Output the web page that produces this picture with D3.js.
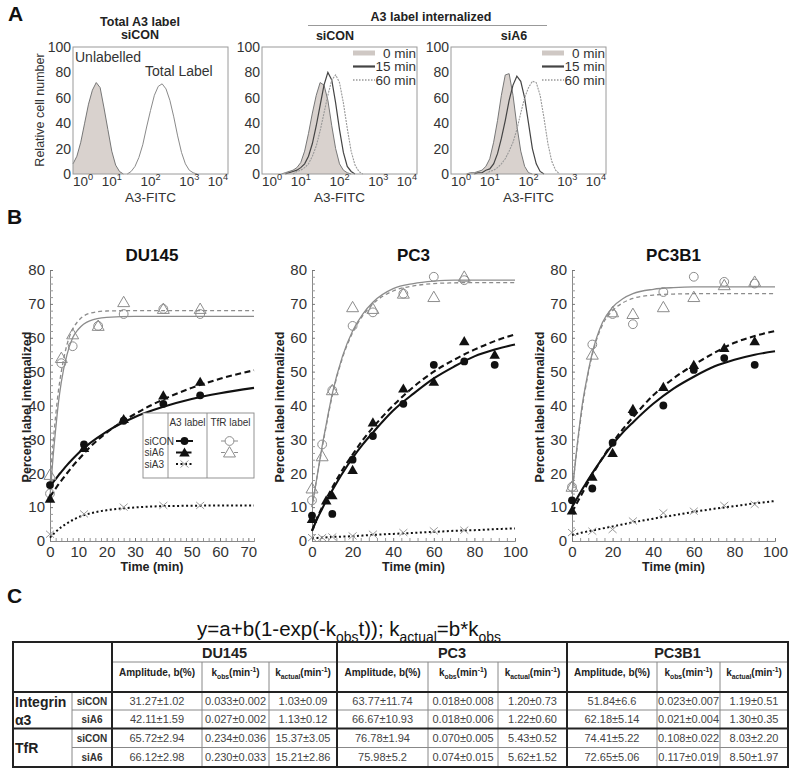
<!DOCTYPE html>
<html>
<head>
<meta charset="utf-8">
<script src="https://cdn.jsdelivr.net/npm/d3@7"></script>
<style>
  body { margin: 0; background: #fff; }
  svg text { font-family: "Liberation Sans", Arial, Helvetica, sans-serif; }
</style>
</head>
<body>
<svg id="fig" width="800" height="776"></svg>
<script>
// ---------- panel A: flow histograms (counts per 0.1 decade bin) ----------
const histExp = [0,0.1,0.2,0.3,0.4,0.5,0.6,0.7,0.8,0.9,1.0,1.1,1.2,1.3,1.4,1.5,1.6,1.7,1.8,1.9,2.0,2.1,2.2,2.3,2.4,2.5,2.6,2.7,2.8,2.9,3.0,3.1,3.2];
const unlabelled = [8,14,25,40,55,66,72,68,52,35,18,7,2,0,0,0,0,0,0,0,0,0,0,0,0,0,0,0,0,0,0,0,0];
const totalLabel = [0,0,0,0,0,0,0,0,0,0,0,0,0,0,0,2,6,13,23,37,50,62,69,71,67,58,45,30,17,8,3,1,0];
const siCON0  = [0,0,0,0,0,0,1,2,3,5,9,18,32,48,62,72,70,58,38,20,8,3,1,0,0,0,0,0,0,0,0,0,0];
const siCON15 = [0,0,0,0,0,0,0,1,2,3,5,8,14,24,38,54,70,80,74,56,35,17,6,2,0,0,0,0,0,0,0,0,0];
const siCON60 = [0,0,0,0,0,0,0,0,0,2,3,5,8,14,22,34,48,62,74,78,72,56,36,18,7,2,0,0,0,0,0,0,0];
const siA60   = [0,0,0,0,0,1,1,2,3,6,12,25,42,62,78,79,62,38,18,6,1,0,0,0,0,0,0,0,0,0,0,0,0];
const siA615  = [0,0,0,0,0,0,0,1,1,3,4,8,16,28,42,58,70,77,73,60,40,20,8,2,0,0,0,0,0,0,0,0,0];
const siA660  = [0,0,0,0,0,0,0,0,0,0,2,3,5,8,12,18,25,35,48,60,68,73,72,62,44,24,10,3,0,0,0,0,0];
const histYTicks = [0,20,40,60,80,100];
const histXExp = [0,1,2,3,4];
const histLegend = ['0 min','15 min','60 min'];

// ---------- panel B: internalization kinetics ----------
// DU145
const du145A3T = [0,12,26,40,53];
const du145A3siCON = [16.5,28.5,35.5,40.5,43];
const du145A3siA6 = [12.5,27.5,36,43,47];
const du145siA3 = [2,8,10,10.5,10.5];
const du145TfrT = [0,4,8,17,26,40,53];
const du145TfrSiCON = [14,52.5,57.5,63.5,67,68.5,67];
const du145TfrSiA6 = [19.5,54,61,63.5,70.5,68.5,68.5];
const du145FitT = [0,1,2,3,4,6,8,10,14,20,30,40,50,60,72];
const du145FitA3siCON = [16,17.2,18.3,19.4,20.4,22.4,24.2,25.9,28.8,32.3,36.6,39.6,41.9,43.6,45.2];
const du145FitA3siA6 = [13,14.3,15.5,16.7,17.8,20,22.1,24,27.6,32,37.5,41.8,45.2,47.9,50.4];
const du145FitSiA3 = [1,1.9,2.7,3.4,4.1,5.2,6.2,7,8.1,9.1,9.9,10.3,10.4,10.5,10.5];
const du145FitTfrSiCON = [13,24,33,41,47,55,60,62.5,65,66,66.3,66.3,66.3,66.3,66.3];
const du145FitTfrSiA6 = [17,28,37,44.5,50,58,62.5,65,67.2,67.9,68,68,68,68,68];
// PC3
const pc3A3T = [0,10,20,30,45,60,75,90];
const pc3A3siCON = [7.5,8,24,31,40.5,52,53,52];
const pc3A6T = [0,7,10,20,30,45,60,75,90];
const pc3A3siA6 = [6.5,12,13.5,21,35,45,47,59,55];
const pc3siA3T = [0,5,10,20,30,45,60,75];
const pc3siA3 = [1,1,1.2,1.5,2,2.5,3,3.2];
const pc3TfrT = [0,5,10,20,30,45,60,75];
const pc3TfrSiCON = [12,28.5,44.5,63.5,67.5,73,78,77];
const pc3TfrSiA6 = [15.5,25,44.5,69,68.5,73,72,78];
const pc3FitT = [0,2.5,5,7.5,10,15,20,25,30,40,50,60,70,80,90,100];
const pc3FitA3siCON = [3,6.5,9.5,12.5,15,20,24.5,28.5,32,38.5,43.5,48,51.5,54.5,56.5,58];
const pc3FitA3siA6 = [3,6.8,10,13,15.8,21,25.5,29.8,33.5,40,45.5,50,53.5,56.5,59,61];
const pc3FitSiA3 = [0.8,0.9,1,1.1,1.2,1.3,1.4,1.6,1.8,2.1,2.4,2.7,3,3.2,3.5,3.7];
const pc3FitTfrSiCON = [10,19,28,36,43.5,54.5,62,67,70.5,74.5,76,76.7,77,77,77,77];
const pc3FitTfrSiA6 = [10,19,27.5,35.5,43,54,61.5,66.5,70,73.8,75.3,76,76.2,76.3,76.3,76.3];
// PC3B1
const pc3b1T = [0,10,20,30,45,60,75,90];
const pc3b1A3siCON = [12,15.5,29,38,40,50.5,54,52];
const pc3b1A3siA6 = [9,19,26,39,45.5,52,57,59];
const pc3b1siA3 = [2.5,2.9,3.4,5.9,8.3,8.8,10.5,10.8];
const pc3b1TfrSiCON = [16,58,67,64,73.5,78,76.5,76];
const pc3b1TfrSiA6 = [16,55,67.5,67,69,72,75.5,76.5];
const pc3b1FitT = [0,2.5,5,7.5,10,15,20,25,30,40,50,60,70,80,90,100];
const pc3b1FitA3siCON = [10,12.6,15.2,17.6,20,24.4,28.5,32,35,40.5,45,48.5,51.5,53.5,55,56];
const pc3b1FitA3siA6 = [8.5,11.3,14,16.8,19.5,24.5,29,33,36.5,43,48,52,55.5,58.5,60.5,62];
const pc3b1FitSiA3 = [1.8,2.1,2.5,2.8,3.1,3.7,4.3,4.9,5.5,6.6,7.6,8.6,9.5,10.3,11.1,11.8];
const pc3b1FitTfrSiCON = [14,28,40,48.5,55.5,64.5,69,71.5,73,74.3,74.8,75,75,75,75,75];
const pc3b1FitTfrSiA6 = [14,27.5,39,48,55,63.8,68,70.3,71.6,72.6,72.9,73,73,73,73,73];

// ---------- panel C: fit table ----------
const cellLines = ['DU145','PC3','PC3B1'];
const treatments = ['siCON','siA6','siCON','siA6'];
const du145Table = [['31.27±1.02','0.033±0.002','1.03±0.09'],['42.11±1.59','0.027±0.002','1.13±0.12'],
                    ['65.72±2.94','0.234±0.036','15.37±3.05'],['66.12±2.98','0.230±0.033','15.21±2.86']];
const pc3Table   = [['63.77±11.74','0.018±0.008','1.20±0.73'],['66.67±10.93','0.018±0.006','1.22±0.60'],
                    ['76.78±1.94','0.070±0.005','5.43±0.52'],['75.98±5.2','0.074±0.015','5.62±1.52']];
const pc3b1Table = [['51.84±6.6','0.023±0.007','1.19±0.51'],['62.18±5.14','0.021±0.004','1.30±0.35'],
                    ['74.41±5.22','0.108±0.022','8.03±2.20'],['72.65±5.06','0.117±0.019','8.50±1.97']];

const svg = d3.select('#fig');

// text with sub/superscript parts
function rich(t, parts, size) {
  let shift = 0;
  parts.forEach(([s, k]) => {
    const target = k === 'sub' ? size * 0.3 : k === 'sup' ? -size * 0.38 : 0;
    t.append('tspan').attr('dy', target - shift)
      .attr('font-size', k ? size * 0.68 : size).text(s);
    shift = target;
  });
  return t;
}

function label(x, y, txt, size, opts = {}) {
  return svg.append('text').attr('x', x).attr('y', y)
    .attr('font-size', size)
    .attr('font-weight', opts.bold ? 'bold' : null)
    .attr('text-anchor', opts.anchor || 'start')
    .attr('fill', opts.fill || '#222')
    .attr('transform', opts.rotate ? `rotate(-90,${x},${y})` : null)
    .text(txt);
}

// panel letters
label(8, 21, 'A', 21, {bold: true, fill: '#111'});
label(7, 224, 'B', 21, {bold: true, fill: '#111'});
label(7, 603, 'C', 21, {bold: true, fill: '#111'});

// ================= panel A =================
function drawHist(c) {
  const W = 155, top = 47, bottom = 174;
  const x = d3.scaleLinear().domain([0, 4]).range([c.left, c.left + W]);
  const y = d3.scaleLinear().domain([0, 100]).range([bottom, top]);
  const g = svg.append('g');

  c.series.forEach(s => {
    const pts = histExp.map((e, i) => [e, s.values[i]])
      .filter((d, i, a) => d[1] > 0 || (a[i - 1] && a[i - 1][1] > 0) || (a[i + 1] && a[i + 1][1] > 0));
    if (s.fill) {
      g.append('path').datum(pts)
        .attr('d', d3.area().x(d => x(d[0])).y0(y(0)).y1(d => y(d[1])))
        .attr('fill', '#d9d2ce');
    }
    g.append('path').datum(pts)
      .attr('d', d3.line().x(d => x(d[0])).y(d => y(d[1])))
      .attr('fill', 'none').attr('stroke', s.stroke).attr('stroke-width', s.width)
      .attr('stroke-dasharray', s.dash || null);
  });

  g.append('rect').attr('x', c.left).attr('y', top).attr('width', W).attr('height', bottom - top)
    .attr('fill', 'none').attr('stroke', '#9a9a9a').attr('stroke-width', 1);

  // y tick labels
  g.selectAll('.yl').data(histYTicks).enter().append('text')
    .attr('x', c.left - 2).attr('y', d => y(d)).attr('dy', '0.36em')
    .attr('text-anchor', 'end').attr('font-size', 14).attr('fill', '#333')
    .text(d => d);

  // x tick labels 10^n
  histXExp.forEach((e, i) => {
    const t = g.append('text').attr('x', x(e)).attr('y', 185.5).attr('fill', '#333')
      .attr('text-anchor', i === 0 ? 'start' : i === histXExp.length - 1 ? 'end' : 'middle');
    rich(t, [['10', null], [String(e), 'sup']], 13.5);
  });
  label(c.left + W / 2, 201.5, 'A3-FITC', 13.5, {anchor: 'middle', fill: '#333'});

  if (c.legend) {
    const r = c.left + W;
    histLegend.forEach((txt, i) => {
      const ly = 53 + i * 13.5;
      const s = c.series[i];
      g.append('line').attr('x1', r - 64).attr('x2', r - 42).attr('y1', ly).attr('y2', ly)
        .attr('stroke', i === 0 ? '#cfc8c4' : s.stroke)
        .attr('stroke-width', i === 0 ? 5 : i === 1 ? 2.2 : 1.3)
        .attr('stroke-dasharray', i === 2 ? '1.5,1.5' : null);
      g.append('text').attr('x', r - 1).attr('y', ly).attr('dy', '0.36em')
        .attr('text-anchor', 'end').attr('font-size', 13.5).attr('fill', '#333').text(txt);
    });
  }
  return x;
}

drawHist({left: 73, series: [
  {values: unlabelled, fill: true, stroke: '#777', width: 1},
  {values: totalLabel, stroke: '#8a8a8a', width: 1}
]});
label(75, 62, 'Unlabelled', 14, {fill: '#333'});
label(145, 76, 'Total Label', 14, {fill: '#333'});
label(140, 26, 'Total A3 label', 12.5, {bold: true, anchor: 'middle'});
label(140, 38.5, 'siCON', 12.5, {bold: true, anchor: 'middle'});
label(44, 110, 'Relative cell number', 12.5, {anchor: 'middle', rotate: true, fill: '#333'});

drawHist({left: 262, legend: true, series: [
  {values: siCON0, fill: true, stroke: '#777', width: 1},
  {values: siCON15, stroke: '#444', width: 1.2},
  {values: siCON60, stroke: '#999', width: 1.1, dash: '2,1'}
]});
drawHist({left: 451, legend: true, series: [
  {values: siA60, fill: true, stroke: '#777', width: 1},
  {values: siA615, stroke: '#444', width: 1.2},
  {values: siA660, stroke: '#999', width: 1.1, dash: '2,1'}
]});
label(431, 21, 'A3 label internalized', 12.5, {bold: true, anchor: 'middle'});
svg.append('line').attr('x1', 308).attr('x2', 547).attr('y1', 25.5).attr('y2', 25.5)
  .attr('stroke', '#999').attr('stroke-width', 1);
label(335, 40, 'siCON', 12.5, {bold: true, anchor: 'middle'});
label(514, 40, 'siA6', 12.5, {bold: true, anchor: 'middle'});

// ================= panel B =================
const yMinor = d3.range(0, 81, 2);

function marker(g, type, px, py) {
  if (type === 'dot') {
    g.append('circle').attr('cx', px).attr('cy', py).attr('r', 3.9).attr('fill', '#111');
  } else if (type === 'ocircle') {
    g.append('circle').attr('cx', px).attr('cy', py).attr('r', 4.4)
      .attr('fill', 'none').attr('stroke', '#8c8c8c').attr('stroke-width', 1);
  } else if (type === 'tri' || type === 'otri') {
    g.append('path').attr('transform', `translate(${px},${py + 1})`)
      .attr('d', d3.symbol(d3.symbolTriangle, type === 'tri' ? 48 : 62)())
      .attr('fill', type === 'tri' ? '#111' : 'none')
      .attr('stroke', type === 'tri' ? 'none' : '#8c8c8c').attr('stroke-width', 1);
  } else if (type === 'x') {
    g.append('path').attr('transform', `translate(${px},${py})`)
      .attr('d', 'M-4,-3.5L4,3.5M-4,3.5L4,-3.5')
      .attr('stroke', '#9a9a9a').attr('stroke-width', 1).attr('fill', 'none');
  }
}

const fitStyle = {
  tfrSiCON: {stroke: '#8c8c8c', width: 1.3, dash: null},
  tfrSiA6:  {stroke: '#8c8c8c', width: 1.3, dash: '4,3'},
  a3siCON:  {stroke: '#111', width: 2.1, dash: null},
  a3siA6:   {stroke: '#111', width: 2.1, dash: '6,3.5'},
  siA3:     {stroke: '#111', width: 2, dash: '2,2.5'}
};

function drawKinetics(c) {
  const x = d3.scaleLinear().domain([0, c.xMax]).range([c.left, c.right]);
  const y = d3.scaleLinear().domain([0, 80]).range([541, 270]);
  const g = svg.append('g');

  const ya = d3.axisLeft(y).tickValues(yMinor).tickSize(-3).tickPadding(5)
    .tickFormat(d => d % 10 ? '' : d);
  const xa = d3.axisBottom(x).tickValues(c.xMinor).tickSize(-3).tickPadding(5)
    .tickFormat(d => c.xLabels.includes(d) ? d : '');
  [g.append('g').attr('transform', `translate(${c.left},0)`).call(ya),
   g.append('g').attr('transform', 'translate(0,541)').call(xa)].forEach(a => {
    a.select('.domain').attr('stroke', '#888');
    a.selectAll('.tick line').attr('stroke', '#999');
    a.selectAll('.tick text').attr('font-size', 15).attr('fill', '#333')
      .attr('font-family', '"Liberation Sans", Arial, sans-serif');
  });
  g.selectAll('.tick').filter(d => d % 10 === 0).select('line').attr('stroke', '#777');

  const line = d3.line().x(d => x(d[0])).y(d => y(d[1])).curve(d3.curveMonotoneX);
  ['tfrSiCON', 'tfrSiA6', 'a3siCON', 'a3siA6', 'siA3'].forEach(k => {
    const st = fitStyle[k];
    g.append('path').datum(c.fitT.map((t, i) => [t, c.fits[k][i]]))
      .attr('d', line).attr('fill', 'none')
      .attr('stroke', st.stroke).attr('stroke-width', st.width)
      .attr('stroke-dasharray', st.dash);
  });

  c.points.forEach(p => p.t.forEach((t, i) => marker(g, p.type, x(t), y(p.v[i]))));

  label((c.left + c.right) / 2, 261, c.title, 17, {bold: true, anchor: 'middle', fill: '#111'});
  label((c.left + c.right) / 2, 571, 'Time (min)', 12.5, {bold: true, anchor: 'middle'});
  label(c.ylabX, 407, 'Percent label internalized', 12.5, {bold: true, anchor: 'middle', rotate: true});
  return {x, y, g};
}

const du = drawKinetics({
  title: 'DU145', left: 50, right: 254, xMax: 72, ylabX: 31,
  xMinor: d3.range(0, 73, 2), xLabels: [0, 10, 20, 30, 40, 50, 60, 70],
  fitT: du145FitT,
  fits: {a3siCON: du145FitA3siCON, a3siA6: du145FitA3siA6, siA3: du145FitSiA3,
         tfrSiCON: du145FitTfrSiCON, tfrSiA6: du145FitTfrSiA6},
  points: [
    {type: 'ocircle', t: du145TfrT, v: du145TfrSiCON},
    {type: 'otri', t: du145TfrT, v: du145TfrSiA6},
    {type: 'x', t: du145A3T, v: du145siA3},
    {type: 'dot', t: du145A3T, v: du145A3siCON},
    {type: 'tri', t: du145A3T, v: du145A3siA6}
  ]
});
drawKinetics({
  title: 'PC3', left: 312, right: 515, xMax: 100, ylabX: 284,
  xMinor: d3.range(0, 101, 4), xLabels: [0, 20, 40, 60, 80, 100],
  fitT: pc3FitT,
  fits: {a3siCON: pc3FitA3siCON, a3siA6: pc3FitA3siA6, siA3: pc3FitSiA3,
         tfrSiCON: pc3FitTfrSiCON, tfrSiA6: pc3FitTfrSiA6},
  points: [
    {type: 'ocircle', t: pc3TfrT, v: pc3TfrSiCON},
    {type: 'otri', t: pc3TfrT, v: pc3TfrSiA6},
    {type: 'x', t: pc3siA3T, v: pc3siA3},
    {type: 'dot', t: pc3A3T, v: pc3A3siCON},
    {type: 'tri', t: pc3A6T, v: pc3A3siA6}
  ]
});
drawKinetics({
  title: 'PC3B1', left: 572, right: 775, xMax: 100, ylabX: 544,
  xMinor: d3.range(0, 101, 4), xLabels: [0, 20, 40, 60, 80, 100],
  fitT: pc3b1FitT,
  fits: {a3siCON: pc3b1FitA3siCON, a3siA6: pc3b1FitA3siA6, siA3: pc3b1FitSiA3,
         tfrSiCON: pc3b1FitTfrSiCON, tfrSiA6: pc3b1FitTfrSiA6},
  points: [
    {type: 'ocircle', t: pc3b1T, v: pc3b1TfrSiCON},
    {type: 'otri', t: pc3b1T, v: pc3b1TfrSiA6},
    {type: 'x', t: pc3b1T, v: pc3b1siA3},
    {type: 'dot', t: pc3b1T, v: pc3b1A3siCON},
    {type: 'tri', t: pc3b1T, v: pc3b1A3siA6}
  ]
});

// legend box inside DU145
(function () {
  const g = du.g.append('g');
  const L = 143, R = 254, T = 413, B = 478, c1 = 168, c2 = 207;
  g.append('rect').attr('x', L).attr('y', T).attr('width', R - L).attr('height', B - T)
    .attr('fill', '#fff').attr('stroke', '#888').attr('stroke-width', 0.9);
  [c1, c2].forEach(cx => g.append('line').attr('x1', cx).attr('x2', cx).attr('y1', T).attr('y2', B)
    .attr('stroke', '#888').attr('stroke-width', 0.9));
  const fs = 10;
  g.append('text').attr('x', (c1 + c2) / 2).attr('y', 426).attr('text-anchor', 'middle')
    .attr('font-size', fs).attr('fill', '#333').text('A3 label');
  g.append('text').attr('x', (c2 + R) / 2).attr('y', 426).attr('text-anchor', 'middle')
    .attr('font-size', fs).attr('fill', '#333').text('TfR label');
  const rows = ['siCON', 'siA6', 'siA3'];
  const keys = ['a3siCON', 'a3siA6', 'siA3'];
  const a3m = ['dot', 'tri', 'x'];
  const tfm = ['ocircle', 'otri', null];
  rows.forEach((r, i) => {
    const ry = 441 + i * 11.5;
    g.append('text').attr('x', L + 1.5).attr('y', ry).attr('dy', '0.35em')
      .attr('font-size', fs).attr('fill', '#333').text(r);
    const st = fitStyle[keys[i]];
    g.append('line').attr('x1', 176).attr('x2', 193).attr('y1', ry).attr('y2', ry)
      .attr('stroke', st.stroke).attr('stroke-width', 2).attr('stroke-dasharray', st.dash);
    marker(g, a3m[i], 184.5, ry);
    if (tfm[i]) {
      g.append('line').attr('x1', 221).attr('x2', 238).attr('y1', ry).attr('y2', ry)
        .attr('stroke', '#8c8c8c').attr('stroke-width', 1);
      g.append('circle').attr('cx', 229.5).attr('cy', ry).attr('r', 4.6).attr('fill', '#fff');
      marker(g, tfm[i], 229.5, ry);
    }
  });
})();

// ================= panel C =================
rich(svg.append('text').attr('x', 349).attr('y', 636).attr('text-anchor', 'middle').attr('fill', '#111'),
  [['y=a+b(1-exp(-k', null], ['obs', 'sub'], ['t));  k', null], ['actual', 'sub'],
   ['=b*k', null], ['obs', 'sub']], 20.5);

(function () {
  const colX = [13, 72, 112, 202, 269, 337, 428, 498, 567, 657, 720, 788];
  const rowY = [642, 662, 692, 710, 728.5, 747.5, 767];
  const g = svg.append('g');
  const hl = (x1, x2, yy, w, col) => g.append('line').attr('x1', x1).attr('x2', x2)
    .attr('y1', yy).attr('y2', yy).attr('stroke', col).attr('stroke-width', w);
  const vl = (xx, y1, y2, w, col) => g.append('line').attr('x1', xx).attr('x2', xx)
    .attr('y1', y1).attr('y2', y2).attr('stroke', col).attr('stroke-width', w);

  // thin inner grid
  hl(colX[2], colX[11], rowY[1], 1, '#888');
  [rowY[3], rowY[5]].forEach(yy => hl(colX[1], colX[11], yy, 1, '#888'));
  vl(colX[1], rowY[2], rowY[6], 1, '#888');
  [3, 4, 6, 7, 9, 10].forEach(i => vl(colX[i], rowY[1], rowY[6], 1, '#888'));
  // heavy lines
  hl(colX[0], colX[11], rowY[2], 1.8, '#222');
  hl(colX[0], colX[11], rowY[4], 1.8, '#222');
  [2, 5, 8].forEach(i => vl(colX[i], rowY[0], rowY[6], 2, '#222'));
  g.append('rect').attr('x', colX[0]).attr('y', rowY[0]).attr('width', colX[11] - colX[0])
    .attr('height', rowY[6] - rowY[0]).attr('fill', 'none').attr('stroke', '#222').attr('stroke-width', 2);

  const tables = [du145Table, pc3Table, pc3b1Table];
  cellLines.forEach((name, k) => {
    const x0 = colX[2 + k * 3], x3 = colX[5 + k * 3];
    g.append('text').attr('x', (x0 + x3) / 2).attr('y', 657.5).attr('text-anchor', 'middle')
      .attr('font-size', 14.5).attr('font-weight', 'bold').attr('fill', '#222').text(name);
    const cx = [0, 1, 2].map(j => (colX[2 + k * 3 + j] + colX[3 + k * 3 + j]) / 2);
    const hs = 10;
    g.append('text').attr('x', cx[0]).attr('y', 676).attr('text-anchor', 'middle')
      .attr('font-size', hs).attr('font-weight', 'bold').attr('fill', '#222').text('Amplitude, b(%)');
    rich(g.append('text').attr('x', cx[1]).attr('y', 676).attr('text-anchor', 'middle')
      .attr('font-weight', 'bold').attr('fill', '#222'),
      [['k', null], ['obs', 'sub'], ['(min', null], ['-1', 'sup'], [')', null]], hs);
    rich(g.append('text').attr('x', cx[2]).attr('y', 676).attr('text-anchor', 'middle')
      .attr('font-weight', 'bold').attr('fill', '#222'),
      [['k', null], ['actual', 'sub'], ['(min', null], ['-1', 'sup'], [')', null]], hs);
    tables[k].forEach((row, r) => {
      const yy = (rowY[2 + r] + rowY[3 + r]) / 2;
      row.forEach((v, j) => g.append('text').attr('x', cx[j]).attr('y', yy).attr('dy', '0.36em')
        .attr('text-anchor', 'middle').attr('font-size', 11).attr('fill', '#444').text(v));
    });
  });

  treatments.forEach((t, r) => {
    const yy = (rowY[2 + r] + rowY[3 + r]) / 2;
    g.append('text').attr('x', (colX[1] + colX[2]) / 2).attr('y', yy).attr('dy', '0.36em')
      .attr('text-anchor', 'middle').attr('font-size', 10).attr('font-weight', 'bold')
      .attr('fill', '#333').text(t);
  });
  const grp = (yy, s) => g.append('text').attr('x', 15).attr('y', yy).attr('font-size', 14)
    .attr('font-weight', 'bold').attr('fill', '#222').text(s);
  grp(707, 'Integrin');
  grp(725, 'α3');
  grp(753, 'TfR');
})();
</script>
</body>
</html>
